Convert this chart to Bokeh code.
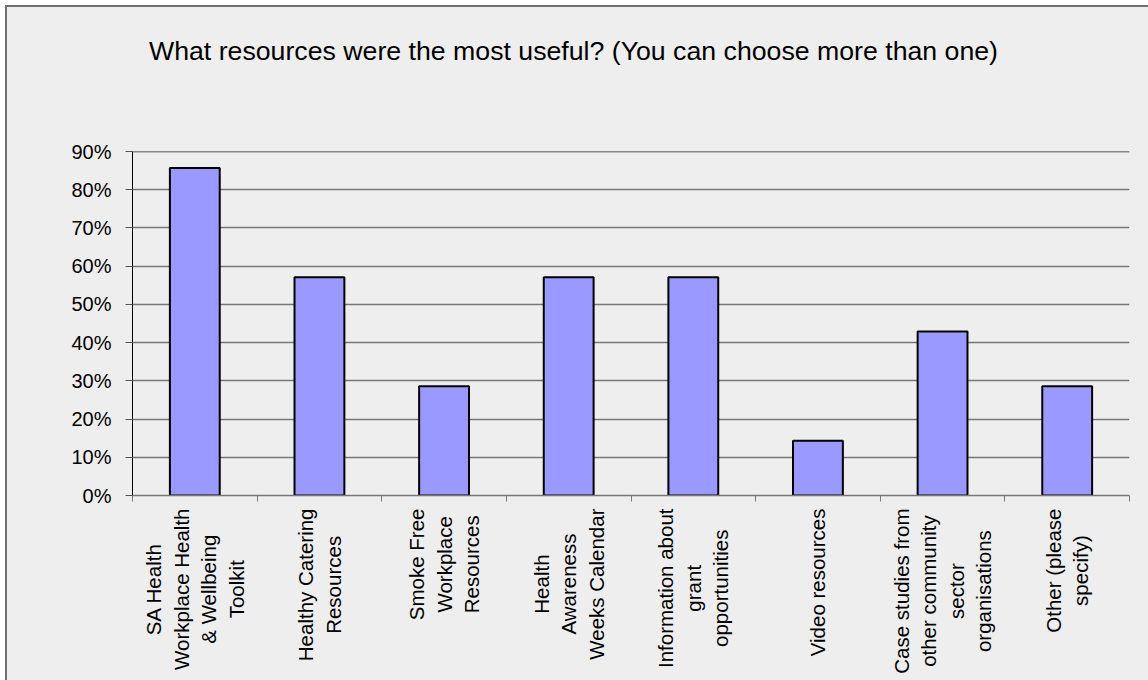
from math import pi
from bokeh.plotting import figure
from bokeh.layouts import column
from bokeh.models import ColumnDataSource, FixedTicker, Label, Range1d, NumeralTickFormatter, Span
from bokeh.embed import file_html
from bokeh.resources import INLINE

categories = [
    "SA Health\nWorkplace Health\n& Wellbeing\nToolkit",
    "Healthy Catering\nResources",
    "Smoke Free\nWorkplace\nResources",
    "Health\nAwareness\nWeeks Calendar",
    "Information about\ngrant\nopportunities",
    "Video resources",
    "Case studies from\nother community\nsector\norganisations",
    "Other (please\nspecify)",
]
values = [0.857, 0.571, 0.286, 0.571, 0.571, 0.143, 0.429, 0.286]
y_ticks = [0.0, 0.1, 0.2, 0.3, 0.4, 0.5, 0.6, 0.7, 0.8, 0.9]
title_text = "What resources were the most useful? (You can choose more than one)"

n = len(categories)
centers = [i + 0.5 for i in range(n)]
bounds = list(range(n + 1))

src = ColumnDataSource(dict(x=centers, top=values))

FONT = "Liberation Sans"
BG = "#eeeeee"
W = 1141


def strip(height, **kw):
    f = figure(width=W, height=height, output_backend="svg", toolbar_location=None,
               x_axis_location=None, y_axis_location=None,
               background_fill_color=BG, border_fill_color=BG, outline_line_color=None, **kw)
    f.xgrid.visible = False
    f.ygrid.visible = False
    return f


# title strip
pt = strip(130, x_range=Range1d(0, 1), y_range=Range1d(0, 1),
           min_border_left=0, min_border_right=0, min_border_top=0, min_border_bottom=0)
pt.add_layout(Label(x=441, y=87, x_units="screen", y_units="screen", text=title_text,
                    text_align="center", text_baseline="middle", text_font=FONT,
                    text_font_size="26.7px", text_color="black"))

# main chart
p = figure(width=W, height=371, x_range=Range1d(0, n), y_range=Range1d(0, y_ticks[-1]),
           output_backend="svg", toolbar_location=None,
           min_border_left=125, min_border_right=19, min_border_top=14, min_border_bottom=13,
           background_fill_color=BG, border_fill_color=BG, outline_line_color=None)

p.vbar(x="x", top="top", width=0.4, source=src, fill_color="#9999ff", line_color="black", line_width=2)

xa = p.xaxis[0]
xa.ticker = FixedTicker(ticks=[], minor_ticks=bounds)
xa.minor_tick_in = 0
xa.minor_tick_out = 6
xa.minor_tick_line_color = "#777777"
xa.axis_line_color = "#777777"
xa.axis_line_width = 1.5

ya = p.yaxis[0]
ya.ticker = FixedTicker(ticks=y_ticks, minor_ticks=[])
ya.formatter = NumeralTickFormatter(format="0%")
ya.major_tick_in = 0
ya.major_tick_out = 7
ya.major_tick_line_color = "#555555"
ya.axis_line_color = "black"
ya.major_label_text_font = FONT
ya.major_label_text_font_size = "20px"
ya.major_label_text_color = "black"
ya.major_label_standoff = 14

p.xgrid.visible = False
p.ygrid.ticker = FixedTicker(ticks=y_ticks)
p.ygrid.grid_line_color = "#777777"
p.ygrid.grid_line_width = 1.5
p.add_layout(Span(location=y_ticks[-1], dimension="width", line_color="#222222", line_width=1.5))

# category label strip below the chart, sharing the x range
p2 = strip(172, x_range=p.x_range, y_range=Range1d(0, 1),
           min_border_left=125, min_border_right=19, min_border_top=0, min_border_bottom=0)
for c, lab in zip(centers, categories):
    p2.add_layout(Label(x=c, y=1, x_units="data", y_units="data", text=lab,
                        angle=pi / 2, text_align="center", anchor="center_right",
                        text_font=FONT, text_font_size="20.5px", text_color="black"))

layout = column(pt, p, p2, spacing=0,
                styles={"margin-left": "5px", "margin-top": "5px",
                        "border-left": "2px solid #707070", "border-top": "2px solid #707070",
                        "background-color": BG})

open("out.html", "w").write(file_html(layout, INLINE))
